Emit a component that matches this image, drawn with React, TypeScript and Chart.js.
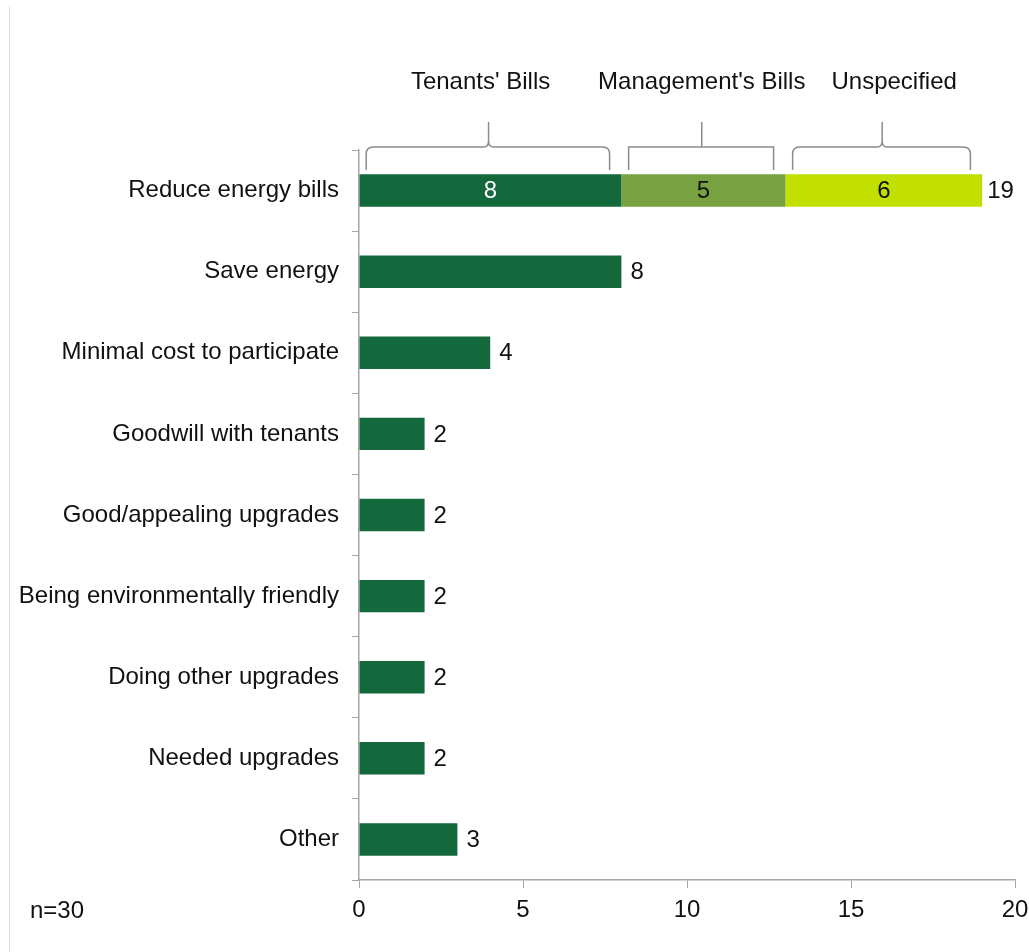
import React, { useEffect, useRef } from "react";
import { Chart, registerables } from "chart.js";

Chart.register(...registerables);

const categories = [
  "Reduce energy bills",
  "Save energy",
  "Minimal cost to participate",
  "Goodwill with tenants",
  "Good/appealing upgrades",
  "Being environmentally friendly",
  "Doing other upgrades",
  "Needed upgrades",
  "Other",
];
const tenantsBills = [8, 8, 4, 2, 2, 2, 2, 2, 3];
const managementBills = [5, null, null, null, null, null, null, null, null];
const unspecified = [6, null, null, null, null, null, null, null, null];
const seriesNames = ["Tenants' Bills", "Management's Bills", "Unspecified"];
const bracketStyles = ["curly", "square", "curly"];
const xTicks = [0, 5, 10, 15, 20];
const sampleNote = "n=30";

const COLORS = ["#13683C", "#78A240", "#C2E000"];
const INSIDE_LABEL_COLORS = ["#FFFFFF", "#111111", "#111111"];
const BRACKET_LABEL_SHIFT = [-8, 0, 12];
const FONT = "'Liberation Sans', Arial, sans-serif";

const labelsPlugin = {
  id: "customLabels",
  afterDatasetsDraw(chart: any) {
    const { ctx } = chart;
    const x = chart.scales.x;
    ctx.save();
    ctx.font = `24px ${FONT}`;
    ctx.textBaseline = "middle";
    categories.forEach((_, i) => {
      let total = 0;
      let segs = 0;
      let yPix = 0;
      chart.data.datasets.forEach((ds: any, d: number) => {
        const v = ds.data[i];
        if (v != null && v !== 0) {
          total += v;
          segs++;
          const el = chart.getDatasetMeta(d).data[i];
          yPix = el.y;
        }
      });
      if (segs > 1) {
        chart.data.datasets.forEach((ds: any, d: number) => {
          const v = ds.data[i];
          if (v == null || v === 0) return;
          const el = chart.getDatasetMeta(d).data[i];
          ctx.fillStyle = INSIDE_LABEL_COLORS[d];
          ctx.textAlign = "center";
          ctx.fillText(String(v), (el.x + el.base) / 2, el.y + 1);
        });
      }
      ctx.fillStyle = "#111111";
      ctx.textAlign = "left";
      ctx.fillText(String(total), x.getPixelForValue(total) + (segs > 1 ? 5 : 9), yPix + 1);
    });
    ctx.restore();
  },
  afterDraw(chart: any) {
    const { ctx, chartArea } = chart;
    const x = chart.scales.x;
    ctx.save();
    // left frame line
    ctx.strokeStyle = "#D9D9D9";
    ctx.lineWidth = 1;
    ctx.beginPath();
    ctx.moveTo(9.5, 7);
    ctx.lineTo(9.5, chart.height);
    ctx.stroke();

    // note
    ctx.font = `24px ${FONT}`;
    ctx.fillStyle = "#111111";
    ctx.textAlign = "left";
    ctx.textBaseline = "middle";
    ctx.fillText(sampleNote, 30, chartArea.bottom + 31);

    // brackets over first row
    const firstRow = [tenantsBills[0], managementBills[0], unspecified[0]];
    let cum = 0;
    const yH = chartArea.top - 3;
    const yEnd = chartArea.top + 20;
    const ySpike = chartArea.top - 28;
    const r = 7;
    ctx.strokeStyle = "#8C8C8C";
    ctx.lineWidth = 1.5;
    firstRow.forEach((v, k) => {
      const start = cum;
      const end = cum + (v || 0);
      cum = end;
      const x0 = x.getPixelForValue(start + 0.22);
      const x1 = x.getPixelForValue(end - 0.36);
      const xm = x.getPixelForValue((start + end) / 2 - 0.05);
      ctx.beginPath();
      if (bracketStyles[k] === "curly") {
        ctx.moveTo(x0, yEnd);
        ctx.lineTo(x0, yH + r);
        ctx.quadraticCurveTo(x0, yH, x0 + r, yH);
        ctx.lineTo(xm - 5, yH);
        ctx.quadraticCurveTo(xm, yH, xm, yH - 6);
        ctx.lineTo(xm, ySpike);
        ctx.moveTo(xm, yH - 6);
        ctx.quadraticCurveTo(xm, yH, xm + 5, yH);
        ctx.lineTo(x1 - r, yH);
        ctx.quadraticCurveTo(x1, yH, x1, yH + r);
        ctx.lineTo(x1, yEnd);
      } else {
        ctx.moveTo(x0, yEnd);
        ctx.lineTo(x0, yH);
        ctx.lineTo(x1, yH);
        ctx.lineTo(x1, yEnd);
        ctx.moveTo(xm, yH);
        ctx.lineTo(xm, ySpike);
      }
      ctx.stroke();
      ctx.fillStyle = "#111111";
      ctx.textAlign = "center";
      ctx.textBaseline = "middle";
      ctx.font = `24px ${FONT}`;
      ctx.fillText(seriesNames[k], xm + BRACKET_LABEL_SHIFT[k], chartArea.top - 68);
    });
    ctx.restore();
  },
};

export default function App() {
  const ref = useRef<HTMLCanvasElement | null>(null);
  useEffect(() => {
    if (!ref.current) return;
    const chart = new Chart(ref.current, {
      type: "bar",
      data: {
        labels: categories,
        datasets: [tenantsBills, managementBills, unspecified].map((d, k) => ({
          label: seriesNames[k],
          data: d as any,
          backgroundColor: COLORS[k],
          borderWidth: 0,
          barPercentage: 0.4,
          categoryPercentage: 1,
        })),
      },
      options: {
        indexAxis: "y",
        animation: false,
        responsive: false,
        maintainAspectRatio: false,
        layout: { padding: { left: 0, right: 14, top: 150, bottom: 0 } },
        plugins: {
          legend: { display: false },
          tooltip: { enabled: false },
        },
        scales: {
          x: {
            stacked: true,
            min: 0,
            max: 20,
            afterBuildTicks: (s: any) => {
              s.ticks = xTicks.map((v) => ({ value: v }));
            },
            afterFit: (s: any) => {
              s.height = 72;
              s.paddingLeft = 0;
              s.paddingRight = 0;
            },
            grid: {
              drawOnChartArea: false,
              drawTicks: true,
              tickLength: 8,
              tickColor: "#A6A6A6",
            },
            border: { color: "#A6A6A6", width: 1.5 },
            ticks: {
              color: "#111111",
              font: { family: FONT, size: 24 },
              padding: 8,
              maxRotation: 0,
            },
          },
          y: {
            stacked: true,
            afterFit: (s: any) => {
              s.width = 359;
              s.paddingTop = 0;
              s.paddingBottom = 0;
            },
            grid: {
              drawOnChartArea: false,
              drawTicks: true,
              tickLength: 7,
              tickColor: "#A6A6A6",
              offset: true,
            },
            border: { color: "#A6A6A6", width: 1.5 },
            ticks: {
              color: "#111111",
              font: { family: FONT, size: 24 },
              padding: 13,
            },
          },
        },
      },
      plugins: [labelsPlugin],
    } as any);
    return () => chart.destroy();
  }, []);
  return (
    <div style={{ position: "fixed", left: 0, top: 0, width: 1029, height: 952, background: "#fff" }}>
      <canvas ref={ref} width={1029} height={952} style={{ display: "block" }} />
    </div>
  );
}
